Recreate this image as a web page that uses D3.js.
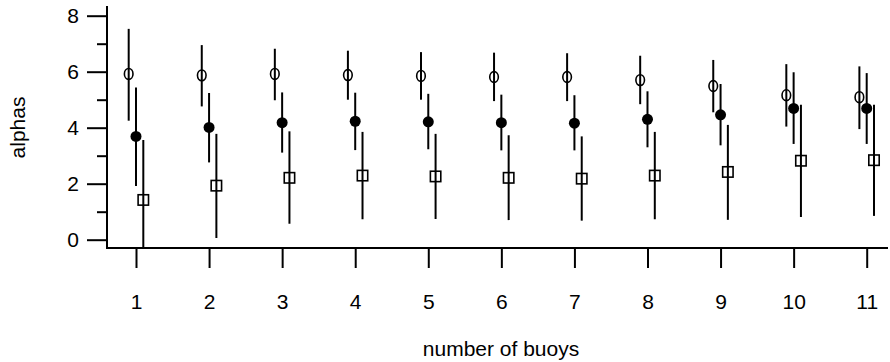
<!DOCTYPE html>
<html lang="en">
	<head>
		<meta charset="utf-8">
		<title>alphas by number of buoys</title>
		<script type="text/javascript" src="https://cdn.jsdelivr.net/npm/d3@7"></script>
		<style type="text/css">
			body { margin: 0; background: #fff; }
			text { font-family: "Liberation Sans", Arial, Helvetica, sans-serif; fill: #000; }
		</style>
	</head>
	<body>
		<script type="text/javascript">
			//Data
			var buoys = [1, 2, 3, 4, 5, 6, 7, 8, 9, 10, 11];

			//open circles
			var openMid = [5.92, 5.87, 5.92, 5.88, 5.85, 5.81, 5.81, 5.70, 5.49, 5.16, 5.09];
			var openLo  = [4.25, 4.76, 4.98, 5.00, 5.00, 4.95, 4.95, 4.84, 4.55, 4.04, 3.95];
			var openHi  = [7.53, 6.95, 6.82, 6.75, 6.70, 6.68, 6.66, 6.57, 6.42, 6.27, 6.19];

			//filled circles
			var fillMid = [3.69, 4.01, 4.18, 4.23, 4.21, 4.18, 4.16, 4.30, 4.46, 4.69, 4.69];
			var fillLo  = [1.92, 2.76, 3.11, 3.20, 3.23, 3.19, 3.19, 3.30, 3.37, 3.42, 3.42];
			var fillHi  = [5.44, 5.24, 5.26, 5.25, 5.21, 5.18, 5.16, 5.30, 5.56, 5.98, 5.95];

			//open squares
			var sqMid = [1.42, 1.93, 2.21, 2.29, 2.26, 2.21, 2.18, 2.29, 2.42, 2.82, 2.84];
			var sqLo  = [-0.8, 0.06, 0.57, 0.73, 0.74, 0.70, 0.68, 0.73, 0.71, 0.81, 0.85];
			var sqHi  = [3.56, 3.78, 3.87, 3.85, 3.78, 3.73, 3.69, 3.85, 4.10, 4.82, 4.82];

			var yMajor = [0, 2, 4, 6, 8];
			var yMinor = [1, 3, 5, 7];

			//Width and height
			var w = 890;
			var h = 362;
			var fs = 21;

			var x = d3.scaleLinear().domain([1, 11]).range([136, 866.7]);
			var y = d3.scaleLinear().domain([0, 8]).range([239.7, 15.7]);

			var axisY = 107, axisX = 248;

			var svg = d3.select("body")
						.append("svg")
						.attr("width", w)
						.attr("height", h);

			svg.append("clipPath").attr("id", "plot")
			   .append("rect").attr("x", axisY).attr("y", 0)
			   .attr("width", w - axisY).attr("height", axisX - 1);

			//y axis: major ticks with labels
			var yAxis = svg.append("g")
						   .attr("transform", "translate(" + axisY + ",0)")
						   .call(d3.axisLeft(y).tickValues(yMajor).tickSize(20).tickPadding(8).tickSizeOuter(0));
			yAxis.select(".domain").remove();
			yAxis.selectAll("line").attr("stroke-width", 2);
			yAxis.selectAll("text").attr("font-size", fs).attr("font-family", null).attr("fill", "#000");

			//y axis minor ticks
			var yAxisMinor = svg.append("g")
						   .attr("transform", "translate(" + axisY + ",0)")
						   .call(d3.axisLeft(y).tickValues(yMinor).tickSize(10).tickFormat("").tickSizeOuter(0));
			yAxisMinor.select(".domain").remove();
			yAxisMinor.selectAll("line").attr("stroke-width", 2);

			//x axis
			var xAxis = svg.append("g")
						   .attr("transform", "translate(0," + axisX + ")")
						   .call(d3.axisBottom(x).tickValues(buoys).tickFormat(d3.format("d")).tickSize(20).tickPadding(26).tickSizeOuter(0));
			xAxis.select(".domain").remove();
			xAxis.selectAll("line").attr("stroke-width", 2);
			xAxis.selectAll("text").attr("font-size", fs).attr("font-family", null).attr("fill", "#000");

			//axis lines
			svg.append("line").attr("x1", axisY).attr("x2", axisY).attr("y1", 6).attr("y2", axisX + 1)
			   .attr("stroke", "#000").attr("stroke-width", 2);
			svg.append("line").attr("x1", axisY).attr("x2", 888).attr("y1", axisX).attr("y2", axisX)
			   .attr("stroke", "#000").attr("stroke-width", 2);

			//axis titles
			svg.append("text").attr("x", 501).attr("y", 356).attr("text-anchor", "middle")
			   .attr("font-size", fs).attr("fill", "#000").text("number of buoys");
			svg.append("text").attr("transform", "translate(24.5,127.5) rotate(-90)").attr("text-anchor", "middle")
			   .attr("font-size", fs).attr("fill", "#000").text("alphas");

			var series = [
				{ mid: openMid, lo: openLo, hi: openHi, dx: -0.1, shape: "open" },
				{ mid: fillMid, lo: fillLo, hi: fillHi, dx: 0, shape: "fill" },
				{ mid: sqMid, lo: sqLo, hi: sqHi, dx: 0.1, shape: "square" }
			];

			var plot = svg.append("g").attr("clip-path", "url(#plot)");

			series.forEach(function(s) {
				var pts = buoys.map(function(b, i) {
					return { x: b + s.dx, mid: s.mid[i], lo: s.lo[i], hi: s.hi[i] };
				});
				var g = plot.append("g");

				//error bars
				g.selectAll("line")
				 .data(pts)
				 .enter()
				 .append("line")
				 .attr("x1", function(d) { return x(d.x); })
				 .attr("x2", function(d) { return x(d.x); })
				 .attr("y1", function(d) { return y(d.lo); })
				 .attr("y2", function(d) { return y(d.hi); })
				 .attr("stroke", "#000")
				 .attr("stroke-width", 2);

				if (s.shape == "open") {
					g.selectAll("ellipse")
					 .data(pts)
					 .enter()
					 .append("ellipse")
					 .attr("cx", function(d) { return x(d.x); })
					 .attr("cy", function(d) { return y(d.mid); })
					 .attr("rx", 4.3)
					 .attr("ry", 5.4)
					 .attr("fill", "none")
					 .attr("stroke", "#000")
					 .attr("stroke-width", 1.6);
				} else if (s.shape == "fill") {
					g.selectAll("circle")
					 .data(pts)
					 .enter()
					 .append("circle")
					 .attr("cx", function(d) { return x(d.x); })
					 .attr("cy", function(d) { return y(d.mid); })
					 .attr("r", 5.5)
					 .attr("fill", "#000");
				} else {
					g.selectAll("rect")
					 .data(pts)
					 .enter()
					 .append("rect")
					 .attr("x", function(d) { return x(d.x) - 5.2; })
					 .attr("y", function(d) { return y(d.mid) - 5.2; })
					 .attr("width", 10.4)
					 .attr("height", 10.4)
					 .attr("fill", "#fff")
					 .attr("stroke", "#000")
					 .attr("stroke-width", 1.6);
					//bar shows through the square
					g.selectAll("line.inner")
					 .data(pts)
					 .enter()
					 .append("line")
					 .attr("class", "inner")
					 .attr("x1", function(d) { return x(d.x); })
					 .attr("x2", function(d) { return x(d.x); })
					 .attr("y1", function(d) { return y(d.mid) - 5.2; })
					 .attr("y2", function(d) { return y(d.mid) + 5.2; })
					 .attr("stroke", "#000")
					 .attr("stroke-width", 2);
				}
			});
		</script>
	</body>
</html>
